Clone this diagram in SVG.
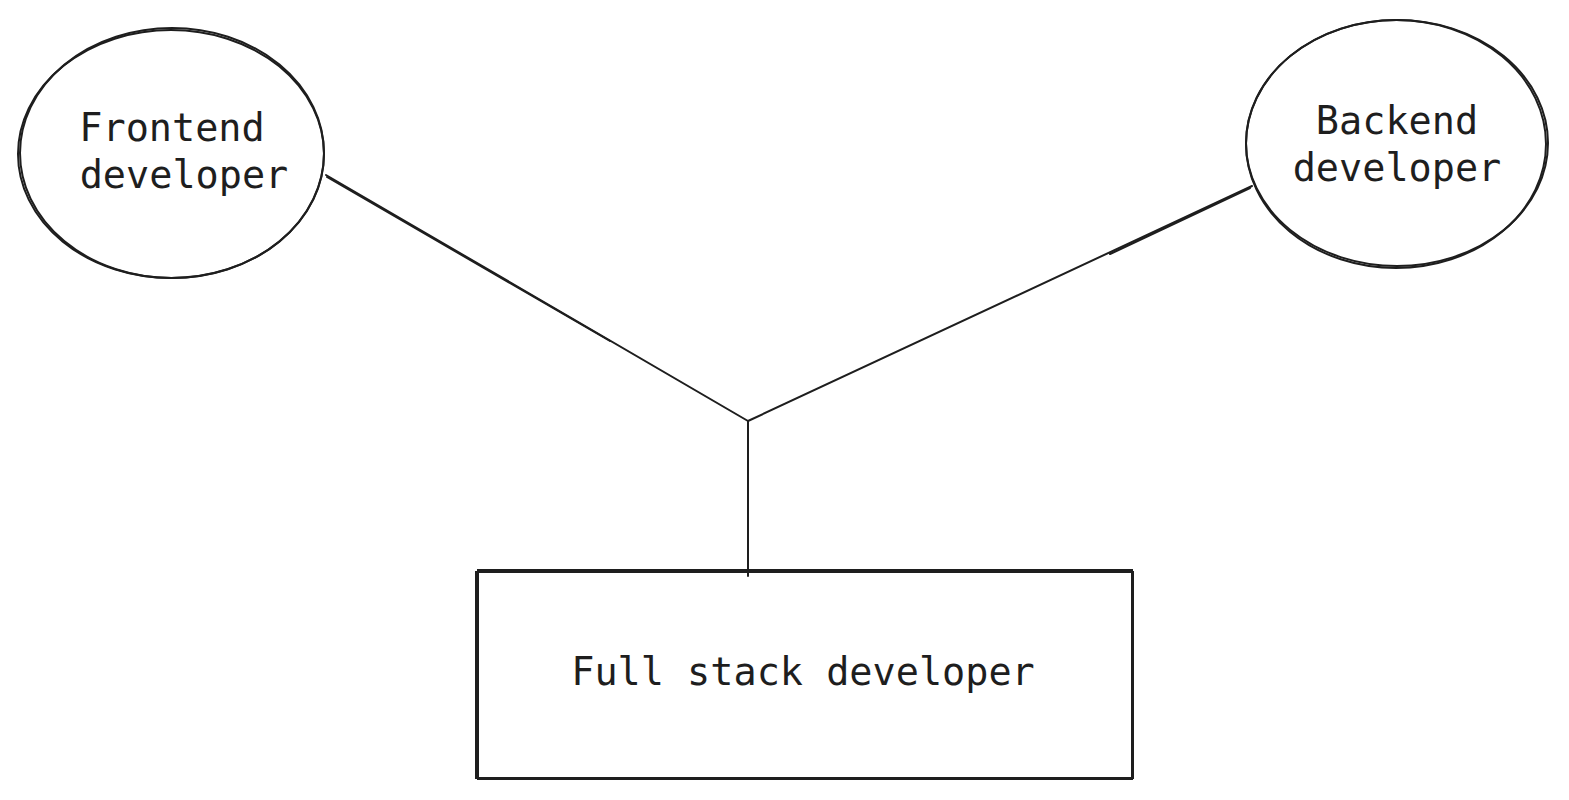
<svg xmlns="http://www.w3.org/2000/svg" width="1569" height="800" viewBox="0 0 1569 800">
<style>
.s{fill:none;stroke:#1e1e1e;stroke-width:2;stroke-linecap:round}
.t{font-family:"DejaVu Sans Mono","Liberation Mono",monospace;font-size:38.5px;fill:#1e1e1e;text-anchor:middle}
</style>
<rect width="1569" height="800" fill="#fff"/>
<g id="connectors">
<path class="s" d="M326 175 L748 421 M1252 186 L748 421 M748 421 L748 576"/>
<path class="s" d="M327 177 L610 341 M1250 188 L1110 254" stroke-width="1"/>
</g>
<g id="frontend">
<ellipse class="s" cx="171" cy="154" rx="153" ry="124"/>
<ellipse class="s" cx="172" cy="153" rx="152" ry="125" stroke-width="1"/>
<text class="t" x="172" y="141">Frontend</text>
<text class="t" x="184" y="188">developer</text>
</g>
<g id="backend">
<ellipse class="s" cx="1397" cy="143" rx="151" ry="123"/>
<ellipse class="s" cx="1396" cy="144" rx="150" ry="124" stroke-width="1"/>
<text class="t" x="1397" y="134">Backend</text>
<text class="t" x="1397" y="181">developer</text>
</g>
<g id="fullstack">
<rect class="s" x="476" y="572" width="657" height="206"/>
<rect class="s" x="478" y="570" width="654" height="209" stroke-width="1"/>
<text class="t" x="803" y="685">Full stack developer</text>
</g>
</svg>
